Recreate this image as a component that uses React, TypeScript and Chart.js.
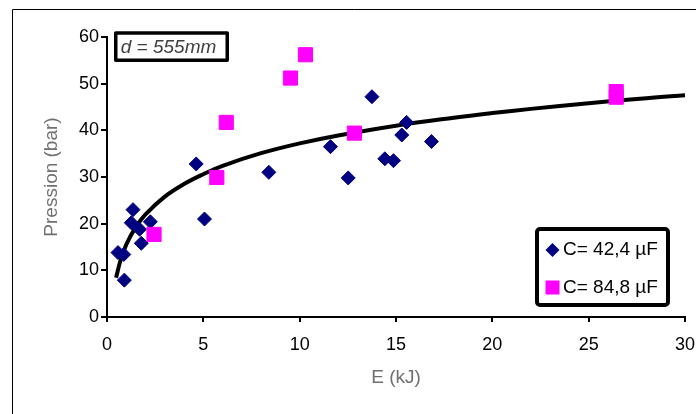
import React, { useEffect, useRef } from "react";
import { Chart, registerables } from "chart.js";

Chart.register(...registerables);

const blueLabel = "C= 42,4 µF";
const pinkLabel = "C= 84,8 µF";
const annotationText = "d = 555mm";
const xTitle = "E (kJ)";
const yTitle = "Pression (bar)";

const blueE = [0.57, 0.87, 0.9, 1.35, 1.26, 1.69, 1.78, 2.25, 4.63, 5.06, 8.4, 11.6, 12.52, 13.75, 14.42, 14.87, 15.3, 15.55, 16.84];
const blueP = [13.8, 13.4, 7.9, 23.0, 20.2, 18.8, 15.8, 20.4, 32.8, 21.0, 31.0, 36.5, 29.8, 47.2, 33.9, 33.5, 39.0, 41.7, 37.6];

const pinkE = [2.44, 5.7, 6.19, 9.52, 10.3, 12.84, 26.43, 26.43];
const pinkP = [17.7, 29.9, 41.7, 51.2, 56.2, 39.4, 48.3, 47.1];

const trendE = [0.47, 0.7, 1, 1.5, 2, 3, 4, 5, 6, 8, 10, 12, 15, 18, 20, 22, 25, 28, 30];
const trendP = [8.4, 12.1, 15.5, 19.3, 22.0, 25.8, 28.5, 30.6, 32.4, 35.1, 37.2, 38.9, 41.0, 42.7, 43.7, 44.6, 45.8, 46.9, 47.5];

const xMin = 0, xMax = 30, xStep = 5;
const yMin = 0, yMax = 60, yStep = 10;

const BLUE = "#000080";
const PINK = "#FF00FF";
const FONT = "'Liberation Sans', Arial, sans-serif";

const toPoints = (xs: number[], ys: number[]) => xs.map((x, i) => ({ x, y: ys[i] }));

const boxesPlugin = {
  id: "boxes",
  beforeDraw(chart: any) {
    const { ctx } = chart;
    ctx.save();
    ctx.strokeStyle = "#000";
    ctx.lineWidth = 1;
    ctx.beginPath();
    ctx.moveTo(12.5, 420);
    ctx.lineTo(12.5, 9.5);
    ctx.lineTo(700, 9.5);
    ctx.stroke();
    ctx.restore();
  },
  afterDraw(chart: any) {
    const { ctx, chartArea } = chart;
    ctx.save();
    // annotation box
    const ax = chartArea.left + 8.75;
    const ay = chartArea.top - 3.9;
    const aw = 111.5;
    const ah = 27.2;
    ctx.fillStyle = "#fff";
    ctx.fillRect(ax, ay, aw, ah);
    ctx.strokeStyle = "#000";
    ctx.lineWidth = 3.5;
    ctx.lineJoin = "round";
    ctx.strokeRect(ax, ay, aw, ah);
    ctx.fillStyle = "#404040";
    ctx.font = `italic 19px ${FONT}`;
    ctx.textBaseline = "middle";
    ctx.textAlign = "left";
    ctx.fillText(annotationText, ax + 5, ay + ah / 2 + 1);

    // legend box
    const lw = 131, lh = 76;
    const lx = chartArea.right - 17 - lw;
    const ly = chartArea.bottom - 12 - lh;
    ctx.fillStyle = "#fff";
    ctx.fillRect(lx, ly, lw, lh);
    ctx.lineWidth = 4;
    ctx.strokeStyle = "#000";
    ctx.beginPath();
    (ctx as any).roundRect ? (ctx as any).roundRect(lx, ly, lw, lh, 3) : ctx.rect(lx, ly, lw, lh);
    ctx.stroke();

    const ds = chart.data.datasets.filter((d: any) => d.legendItem);
    ds.forEach((d: any, i: number) => {
      const cy = ly + 21 + i * 37.5;
      const cx = lx + 15.5;
      ctx.fillStyle = d.backgroundColor;
      ctx.beginPath();
      if (d.pointStyle === "rectRot") {
        ctx.moveTo(cx - 7, cy);
        ctx.lineTo(cx, cy - 7);
        ctx.lineTo(cx + 7, cy);
        ctx.lineTo(cx, cy + 7);
        ctx.closePath();
      } else {
        ctx.rect(cx - 7, cy - 7, 14, 14);
      }
      ctx.fill();
      ctx.fillStyle = "#000";
      ctx.font = `19px ${FONT}`;
      ctx.textBaseline = "middle";
      ctx.fillText(d.label, lx + 26, cy);
    });
    ctx.restore();
  },
};

export default function App() {
  const ref = useRef<HTMLCanvasElement | null>(null);
  useEffect(() => {
    document.body.style.margin = "0";
    if (!ref.current) return;
    const chart = new Chart(ref.current, {
      type: "scatter",
      data: {
        datasets: [
          {
            label: "trend",
            data: toPoints(trendE, trendP),
            showLine: true,
            borderColor: "#000",
            borderWidth: 4,
            tension: 0.4,
            pointRadius: 0,
            fill: false,
            order: 3,
          } as any,
          {
            label: blueLabel,
            data: toPoints(blueE, blueP),
            pointStyle: "rectRot",
            pointRadius: 7,
            backgroundColor: BLUE,
            borderColor: BLUE,
            borderWidth: 1,
            legendItem: true,
            clip: false,
            order: 2,
          } as any,
          {
            label: pinkLabel,
            data: toPoints(pinkE, pinkP),
            pointStyle: "rect",
            pointRadius: 10,
            backgroundColor: PINK,
            borderColor: PINK,
            borderWidth: 1,
            legendItem: true,
            clip: false,
            order: 1,
          } as any,
        ],
      },
      options: {
        animation: false,
        responsive: false,
        layout: { padding: { top: 37, right: 0, left: 0, bottom: 0 } },
        plugins: { legend: { display: false }, tooltip: { enabled: false } },
        scales: {
          x: {
            type: "linear",
            min: xMin,
            max: xMax,
            afterFit: (s: any) => { s.height = 97; s.paddingRight = 11; },
            ticks: { stepSize: xStep, color: "#000", font: { family: FONT, size: 18 }, padding: 12 },
            grid: { drawOnChartArea: false, drawTicks: true, tickLength: 5, color: "#000", lineWidth: 2 },
            border: { color: "#000", width: 2 },
            title: { display: true, text: xTitle, color: "#707070", font: { family: FONT, size: 19 }, padding: { top: 0, bottom: 25 } },
          },
          y: {
            type: "linear",
            min: yMin,
            max: yMax,
            afterFit: (s: any) => { s.width = 107; },
            ticks: { stepSize: yStep, color: "#000", font: { family: FONT, size: 18 }, padding: 2 },
            grid: { drawOnChartArea: false, drawTicks: true, tickLength: 6, color: "#000", lineWidth: 2 },
            border: { color: "#000", width: 2 },
            title: { display: true, text: yTitle, color: "#707070", font: { family: FONT, size: 19 }, padding: { top: 40, bottom: 0 } },
          },
        },
      } as any,
      plugins: [boxesPlugin],
    });
    return () => chart.destroy();
  }, []);
  return (
    <div style={{ width: 696, height: 414, position: "relative", background: "#fff" }}>
      <canvas ref={ref} width={696} height={414} style={{ display: "block" }} />
    </div>
  );
}
